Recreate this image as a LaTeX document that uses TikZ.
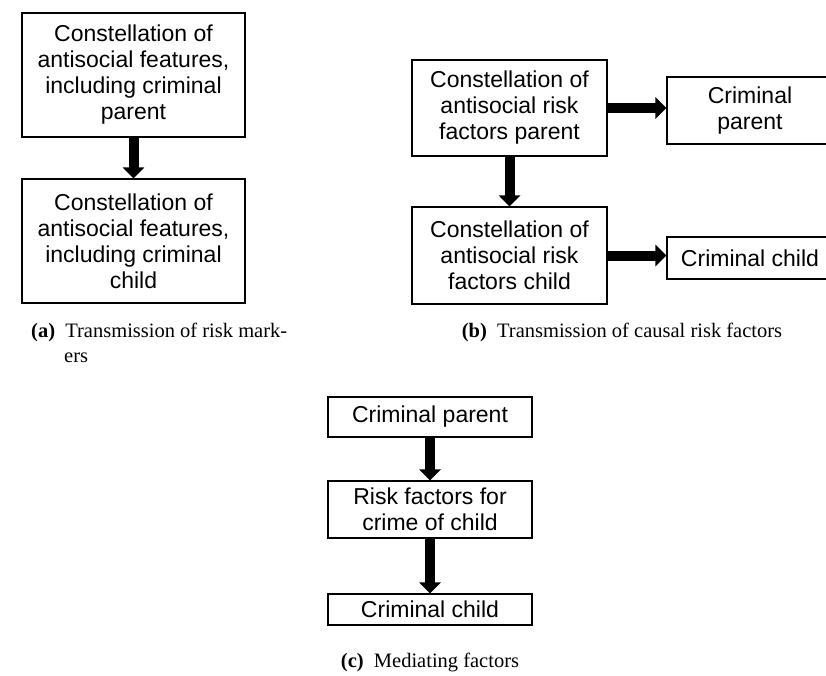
\documentclass[tikz,border=0pt]{standalone}
\usepackage{fontspec}
\setmainfont{Liberation Serif}
\newfontfamily\boxfont{Liberation Sans}
\usetikzlibrary{positioning,arrows.meta}

\tikzset{
  box/.style={draw,line width=1.2pt,inner sep=0pt,align=center,
    font=\boxfont\fontsize{23}{26}\selectfont},
  bigarrow/.style={line width=10pt,-{Triangle[length=11pt,width=21pt]}},
  subcap/.style={inner sep=0pt,anchor=base,font=\fontsize{20.5}{25}\selectfont}
}

\begin{document}
\begin{tikzpicture}[x=1pt,y=-1pt]
  \useasboundingbox (0,0) rectangle (826,675);

  % (a) risk markers
  \node[box,minimum width=223pt,minimum height=124pt] (markP) at (133.5,75)
    {Constellation of\\antisocial features,\\including criminal\\parent};
  \node[box,minimum width=223pt,minimum height=124pt] (markC) at (133.5,241)
    {Constellation of\\antisocial features,\\including criminal\\child};
  \draw[bigarrow] (markP) -- (markC);
  \node[subcap,anchor=base west,align=left] (capA) at (31,362)
    {\textbf{(a)}\enspace Transmission of risk mark-\\\hspace*{33pt}ers};

  % (b) causal risk factors
  \node[box,minimum width=195pt,minimum height=96pt] (causeP) at (509.5,108)
    {Constellation of\\antisocial risk\\factors parent};
  \node[box,minimum width=166pt,minimum height=67pt] (crimP) at (750,110.5)
    {Criminal\\parent};
  \node[box,minimum width=195pt,minimum height=97pt] (causeC) at (509.5,255.5)
    {Constellation of\\antisocial risk\\factors child};
  \node[box,minimum width=166pt,minimum height=42pt] (crimC) at (750,258)
    {Criminal child};
  \draw[bigarrow] (causeP.east) -- (crimP.west |- causeP.east);
  \draw[bigarrow] (causeP) -- (causeC);
  \draw[bigarrow] (causeC.east) -- (crimC.west |- causeC.east);
  \node[subcap] (capB) at (622,337)
    {\textbf{(b)}\enspace Transmission of causal risk factors};

  % (c) mediating factors
  \node[box,minimum width=204pt,minimum height=40pt] (medP) at (430,417)
    {Criminal parent};
  \node[box,minimum width=204pt,minimum height=57pt] (medR) at (430,509.5)
    {Risk factors for\\crime of child};
  \node[box,minimum width=204pt,minimum height=31pt] (medC) at (430,609.5)
    {Criminal child};
  \draw[bigarrow] (medP) -- (medR);
  \draw[bigarrow] (medR) -- (medC);
  \node[subcap] (capC) at (430,667)
    {\textbf{(c)}\enspace Mediating factors};
\end{tikzpicture}
\end{document}
